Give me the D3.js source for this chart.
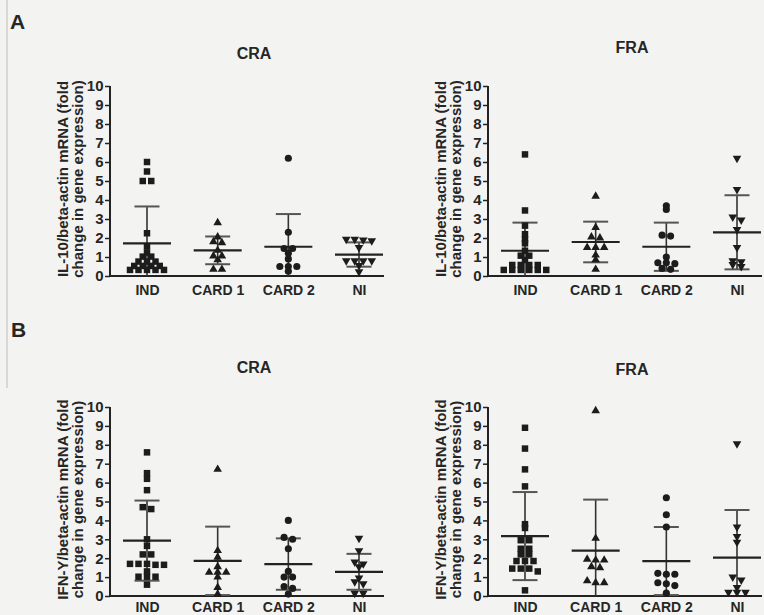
<!DOCTYPE html>
<html>
<head>
<meta charset="utf-8">
<script src="https://cdn.jsdelivr.net/npm/d3@7"></script>
<style>
  html, body { margin: 0; padding: 0; background: #f3f3f1; }
  svg { display: block; }
  text { font-family: "Liberation Sans", Arial, Helvetica, sans-serif; font-weight: bold; fill: #262626; }
</style>
</head>
<body>
<svg id="fig" width="764" height="615"></svg>
<script>
// ---- data -------------------------------------------------------------
const groups = ["IND", "CARD 1", "CARD 2", "NI"];
const yTickValues = [0, 1, 2, 3, 4, 5, 6, 7, 8, 9, 10];

// IL-10 / beta-actin, CRA
const il10CraInd   = [6.0, 5.5, 5.0, 5.0, 2.25, 1.55, 1.23, 1.02, 1.02, 0.76, 0.76, 0.76, 0.53, 0.53, 0.53, 0.53, 0.32, 0.32, 0.32, 0.32, 0.32];
const il10CraCard1 = [2.8, 2.05, 1.8, 1.75, 1.35, 1.05, 1.05, 0.85, 0.35, 0.35];
const il10CraCard2 = [6.2, 2.3, 1.45, 1.45, 1.2, 0.9, 0.5, 0.5, 0.5, 0.25];
const il10CraNi    = [1.93, 1.9, 1.85, 1.93, 1.5, 0.8, 0.8, 0.8, 0.8, 0.55, 0.22];
const il10CraMean  = [1.72, 1.35, 1.54, 1.13];
const il10CraSd    = [1.94, 0.73, 1.72, 0.64];

// IL-10 / beta-actin, FRA
const il10FraInd   = [6.4, 3.45, 2.65, 2.2, 1.93, 1.72, 1.33, 1.07, 1.07, 0.84, 0.58, 0.58, 0.58, 0.58, 0.32, 0.32, 0.32, 0.32, 0.32, 0.32];
const il10FraCard1 = [4.2, 2.55, 2.05, 2.0, 1.5, 1.5, 1.5, 1.1, 0.85, 0.35];
const il10FraCard2 = [3.7, 3.5, 2.15, 2.1, 1.0, 0.7, 0.65, 0.7, 0.4, 0.35];
const il10FraNi    = [6.2, 4.55, 3.1, 2.95, 2.45, 1.5, 0.75, 0.5, 0.6, 0.8];
const il10FraMean  = [1.33, 1.79, 1.54, 2.30];
const il10FraSd    = [1.48, 1.07, 1.27, 1.95];

// IFN-Y / beta-actin, CRA
const ifnCraInd   = [7.6, 6.5, 6.2, 5.6, 4.7, 4.6, 3.0, 2.65, 2.2, 2.2, 1.7, 1.65, 1.7, 1.65, 1.7, 1.3, 1.02, 1.02, 1.02, 0.6];
const ifnCraCard1 = [6.7, 2.4, 2.05, 1.55, 1.25, 1.25, 1.25, 1.0, 0.45, 0.1];
const ifnCraCard2 = [4.0, 3.1, 3.0, 2.5, 1.3, 1.0, 1.0, 0.5, 0.4, 0.1];
const ifnCraNi    = [3.05, 2.4, 1.8, 1.7, 1.55, 0.95, 0.75, 0.65, 0.15, 0.15];
const ifnCraMean  = [2.93, 1.86, 1.69, 1.28];
const ifnCraSd    = [2.12, 1.81, 1.36, 0.95];

// IFN-Y / beta-actin, FRA
const ifnFraInd   = [8.9, 7.8, 6.7, 5.8, 3.8, 3.6, 2.95, 2.95, 2.5, 2.5, 2.2, 2.2, 1.85, 1.85, 1.85, 1.45, 1.45, 1.45, 1.3, 0.3];
const ifnFraCard1 = [9.8, 3.05, 1.9, 1.95, 1.9, 1.55, 1.5, 0.8, 0.7, 0.7];
const ifnFraCard2 = [5.2, 4.3, 3.65, 1.2, 1.15, 1.15, 0.7, 0.65, 0.55, 0.15];
const ifnFraNi    = [8.05, 3.65, 3.15, 2.85, 1.0, 0.85, 0.2, 0.2, 0.2, 0.45];
const ifnFraMean  = [3.17, 2.40, 1.85, 2.03];
const ifnFraSd    = [2.33, 2.70, 1.80, 2.52];

const il10Label = ["IL-10/beta-actin mRNA (fold", "change in gene expression)"];
const ifnLabel  = ["IFN-Y/beta-actin mRNA (fold", "change in gene expression)"];

// ---- layout -----------------------------------------------------------
const svg = d3.select("#fig");
const ink = "#222";

const panels = [
  { left: 110, top: 86,  bottom: 276, title: "CRA", titleY: 59,  labelGap: 9, label: il10Label,
    values: [il10CraInd, il10CraCard1, il10CraCard2, il10CraNi], mean: il10CraMean, sd: il10CraSd },
  { left: 488, top: 86,  bottom: 276, title: "FRA", titleY: 53,  labelGap: 9, label: il10Label,
    values: [il10FraInd, il10FraCard1, il10FraCard2, il10FraNi], mean: il10FraMean, sd: il10FraSd },
  { left: 110, top: 407, bottom: 596, title: "CRA", titleY: 373, labelGap: 6, label: ifnLabel,
    values: [ifnCraInd, ifnCraCard1, ifnCraCard2, ifnCraNi], mean: ifnCraMean, sd: ifnCraSd },
  { left: 488, top: 407, bottom: 596, title: "FRA", titleY: 375, labelGap: 6, label: ifnLabel,
    values: [ifnFraInd, ifnFraCard1, ifnFraCard2, ifnFraNi], mean: ifnFraMean, sd: ifnFraSd }
];

const axisLength = 274;
const symbols = [
  { type: d3.symbolSquare,   size: 42, rotate: 0 },
  { type: d3.symbolTriangle, size: 32, rotate: 0 },
  { type: d3.symbolCircle,   size: 40, rotate: 0 },
  { type: d3.symbolTriangle, size: 32, rotate: 180 }
];

// column scatter: points whose positions fall within rowGap pixels share a row
// and are spread symmetrically about the column centre
function spreadRows(values, y, rowGap, step) {
  const items = values.map((v, i) => ({ v, i, y: y(v) })).sort((a, b) => a.y - b.y);
  const rows = [];
  for (const it of items) {
    const last = rows[rows.length - 1];
    if (last && it.y - last[0].y < rowGap) last.push(it);
    else rows.push([it]);
  }
  const out = new Array(values.length);
  rows.forEach(r => r.forEach((it, k) => { out[it.i] = (k - (r.length - 1) / 2) * step; }));
  return out;
}

// faint edge line on the left of the page
svg.append("line")
  .attr("x1", 7).attr("x2", 7).attr("y1", 0).attr("y2", 388)
  .attr("stroke", "#cfcfcd").attr("stroke-width", 1.5);

// panel letters
svg.append("text").attr("x", 10).attr("y", 29).style("font-size", "21px").text("A");
svg.append("text").attr("x", 11).attr("y", 337).style("font-size", "21px").text("B");

panels.forEach(p => {
  const g = svg.append("g").attr("transform", `translate(${p.left},0)`);

  const y = d3.scaleLinear().domain([0, 10]).range([p.bottom, p.top]);
  const x = d3.scalePoint().domain(groups).range([37, 249]);

  // title
  g.append("text")
    .attr("x", 144).attr("y", p.titleY)
    .attr("text-anchor", "middle")
    .style("font-size", "16px")
    .text(p.title);

  // y axis
  const yAxis = g.append("g")
    .call(d3.axisLeft(y).tickValues(yTickValues).tickFormat(d3.format("d")).tickSize(5).tickPadding(1.5));
  yAxis.select(".domain").attr("stroke", ink).attr("stroke-width", 2).attr("d", `M0,${p.top}V${p.bottom}`);
  yAxis.selectAll(".tick line").attr("stroke", ink).attr("stroke-width", 1.5);
  yAxis.selectAll(".tick text")
    .attr("fill", "#262626")
    .style("font-family", "'Liberation Sans', Arial, sans-serif")
    .style("font-weight", "bold")
    .style("font-size", "15px");

  // x axis (line only, category labels below)
  const xAxis = g.append("g").attr("transform", `translate(0,${p.bottom})`)
    .call(d3.axisBottom(x).tickSize(0).tickPadding(p.labelGap));
  xAxis.select(".domain").attr("stroke", ink).attr("stroke-width", 2.2).attr("d", `M0,0H${axisLength}`);
  xAxis.selectAll(".tick text")
    .attr("fill", "#262626")
    .style("font-family", "'Liberation Sans', Arial, sans-serif")
    .style("font-weight", "bold")
    .style("font-size", "14px");

  // y axis title, two lines
  const cy = (p.top + p.bottom) / 2 - 2;
  const lab = g.append("text")
    .attr("transform", `translate(-42,${cy}) rotate(-90)`)
    .attr("text-anchor", "middle")
    .style("font-size", "15px");
  lab.append("tspan").attr("x", 0).attr("y", 0).text(p.label[0]);
  lab.append("tspan").attr("x", 0).attr("y", 14.5).text(p.label[1]);

  // mean ± SD bars
  groups.forEach((grp, i) => {
    const cx = x(grp);
    const m = p.mean[i], s = p.sd[i];
    const lo = Math.max(0, m - s), hi = m + s;
    const bar = g.append("g");
    bar.append("line").attr("x1", cx).attr("x2", cx).attr("y1", y(lo)).attr("y2", y(hi))
      .attr("stroke", "#333").attr("stroke-width", 1.6);
    bar.append("line").attr("x1", cx - 12.5).attr("x2", cx + 12.5).attr("y1", y(hi)).attr("y2", y(hi))
      .attr("stroke", "#555").attr("stroke-width", 2);
    if (m - s > 0) {
      bar.append("line").attr("x1", cx - 12.5).attr("x2", cx + 12.5).attr("y1", y(lo)).attr("y2", y(lo))
        .attr("stroke", "#555").attr("stroke-width", 2);
    }
    bar.append("line").attr("x1", cx - 24).attr("x2", cx + 24).attr("y1", y(m)).attr("y2", y(m))
      .attr("stroke", ink).attr("stroke-width", 2.2);
  });

  // individual values
  groups.forEach((grp, i) => {
    const vals = p.values[i];
    const dx = spreadRows(vals, y, 3.2, 8.5);
    const sym = symbols[i];
    const shape = d3.symbol().type(sym.type).size(sym.size);
    g.append("g").selectAll("path").data(vals).join("path")
      .attr("d", shape)
      .attr("transform", (d, k) => `translate(${x(grp) + dx[k]},${y(d)}) rotate(${sym.rotate})`)
      .attr("fill", "#1c1c1c");
  });
});
</script>
</body>
</html>
